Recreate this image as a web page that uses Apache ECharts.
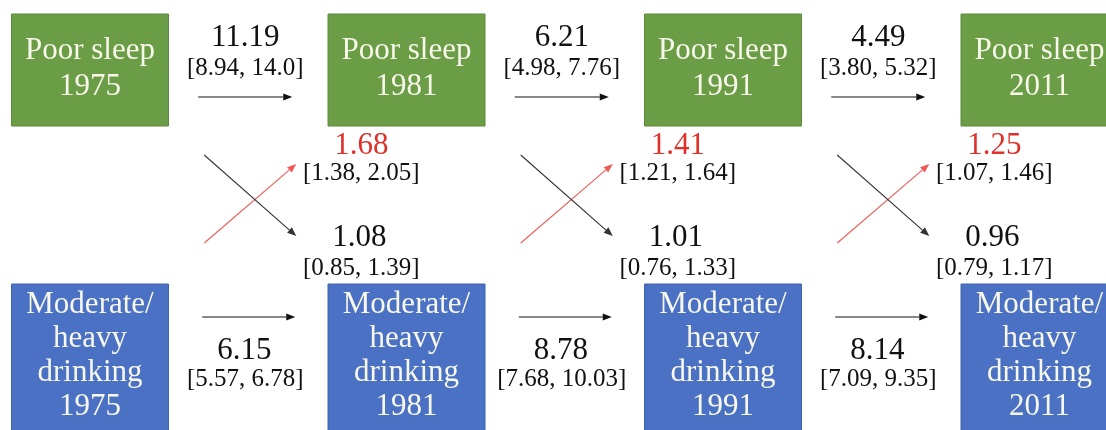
<!DOCTYPE html>
<html>
<head>
<meta charset="utf-8">
<style>html,body{margin:0;padding:0;background:#fff}#c{width:1106px;height:430px}</style>
<script src="https://cdn.jsdelivr.net/npm/echarts@6/dist/echarts.min.js"></script>
</head>
<body>
<div id="c"></div>
<script>
// ---- data ----
const waves = ['1975', '1981', '1991', '2011'];
const varNames = ['Poor sleep', 'Moderate/\nheavy\ndrinking'];
const sleepAR = [11.19, 6.21, 4.49];
const sleepARci = ['[8.94, 14.0]', '[4.98, 7.76]', '[3.80, 5.32]'];
const drinkAR = [6.15, 8.78, 8.14];
const drinkARci = ['[5.57, 6.78]', '[7.68, 10.03]', '[7.09, 9.35]'];
const drinkToSleep = [1.68, 1.41, 1.25];
const drinkToSleepCi = ['[1.38, 2.05]', '[1.21, 1.64]', '[1.07, 1.46]'];
const sleepToDrink = [1.08, 1.01, 0.96];
const sleepToDrinkCi = ['[0.85, 1.39]', '[0.76, 1.33]', '[0.79, 1.17]'];

// ---- layout / style ----
const FONT = "'Liberation Serif', 'Times New Roman', serif";
const COL0 = 90, COLSTEP = 316.5, BOXW = 157;
const colCenter = i => COL0 + COLSTEP * i;
const mid = j => (colCenter(j) + colCenter(j + 1)) / 2;
const boxes = [
  { top: 14, h: 112, fill: '#6b9c46', border: '#5d8a3c', lineH: 36 },
  { top: 284, h: 150, fill: '#4a71c3', border: '#3f62ab', lineH: 34 }
];
// path types: 0 sleep AR, 1 drink AR, 2 drink->sleep (red), 3 sleep->drink (black)
const pathSpec = [
  { vals: sleepAR, ci: sleepARci, color: '#111', arrow: '#111', a: [-50, 97], b: [44, 97], v: [-3, 37.5], c: [-3, 68.5] },
  { vals: drinkAR, ci: drinkARci, color: '#111', arrow: '#111', a: [-46, 317], b: [47, 317], v: [-4, 351], c: [-3, 379] },
  { vals: drinkToSleep, ci: drinkToSleepCi, color: '#e0302a', arrow: '#ef5a55', a: [-44, 243], b: [48, 164], v: [113, 146], c: [113, 173] },
  { vals: sleepToDrink, ci: sleepToDrinkCi, color: '#111', arrow: '#333', a: [-44, 155], b: [48, 236], v: [111, 238], c: [113, 268] }
];

const boxData = [];
waves.forEach((w, i) => varNames.forEach((n, v) => boxData.push([i, v])));
const pathData = [];
for (let j = 0; j < waves.length - 1; j++) for (let t = 0; t < pathSpec.length; t++) pathData.push([j, t]);

function renderBox(params, api) {
  const i = api.value(0), v = api.value(1);
  const b = boxes[v];
  const p0 = api.coord([colCenter(i) - BOXW / 2, b.top]);
  const p1 = api.coord([colCenter(i) + BOXW / 2, b.top + b.h]);
  const c = api.coord([colCenter(i), b.top + b.h / 2 + (v === 1 ? -3 : -1)]);
  return {
    type: 'group',
    children: [
      { type: 'rect', shape: { x: p0[0], y: p0[1], width: p1[0] - p0[0], height: p1[1] - p0[1] },
        style: { fill: b.fill, stroke: b.border, lineWidth: 1 } },
      { type: 'text', x: c[0], y: c[1],
        style: { text: varNames[v] + '\n' + waves[i], fill: '#f7f7ea', font: '31px ' + FONT,
                 lineHeight: b.lineH, align: 'center', verticalAlign: 'middle' } }
    ]
  };
}

function renderPath(params, api) {
  const j = api.value(0), t = api.value(1);
  const s = pathSpec[t], m = mid(j);
  const A = api.coord([m + s.a[0], s.a[1]]);
  const B = api.coord([m + s.b[0], s.b[1]]);
  const dx = B[0] - A[0], dy = B[1] - A[1], L = Math.hypot(dx, dy);
  const ux = dx / L, uy = dy / L, hl = 9, hw = 3.6;
  const bx = B[0] - ux * hl, by = B[1] - uy * hl;
  const V = api.coord([m + s.v[0], s.v[1]]);
  const C = api.coord([m + s.c[0], s.c[1]]);
  return {
    type: 'group',
    children: [
      { type: 'line', shape: { x1: A[0], y1: A[1], x2: bx, y2: by }, style: { stroke: s.arrow, lineWidth: 1.1 } },
      { type: 'polygon', shape: { points: [[B[0], B[1]], [bx - uy * hw, by + ux * hw], [bx + uy * hw, by - ux * hw]] },
        style: { fill: s.arrow } },
      { type: 'text', x: V[0], y: V[1], style: { text: s.vals[j].toFixed(2), fill: s.color, font: '31px ' + FONT,
        align: 'center', verticalAlign: 'middle' } },
      { type: 'text', x: C[0], y: C[1], style: { text: s.ci[j], fill: '#111', font: '25px ' + FONT,
        align: 'center', verticalAlign: 'middle' } }
    ]
  };
}

const chart = echarts.init(document.getElementById('c'));
chart.setOption({
  animation: false,
  backgroundColor: '#ffffff',
  grid: { left: 0, right: 0, top: 0, bottom: 0 },
  xAxis: { type: 'value', min: 0, max: 1106, show: false },
  yAxis: { type: 'value', min: 0, max: 430, inverse: true, show: false },
  series: [
    { type: 'custom', renderItem: renderBox, data: boxData, clip: true, silent: true },
    { type: 'custom', renderItem: renderPath, data: pathData, clip: false, silent: true }
  ]
});
</script>
</body>
</html>
